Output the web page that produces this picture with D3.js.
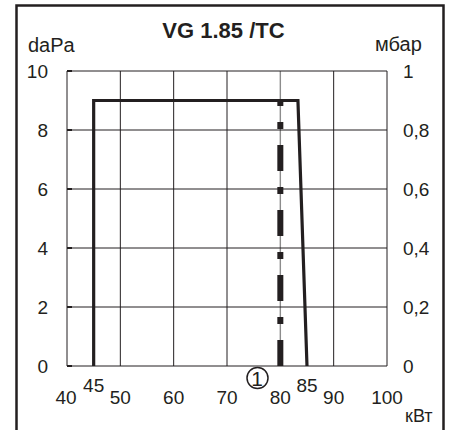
<!DOCTYPE html>
<html>
<head>
<meta charset="utf-8">
<script src="https://cdn.jsdelivr.net/npm/d3@7"></script>
<style>
  html, body { margin: 0; padding: 0; background: #fff; }
  svg { display: block; font-family: "Liberation Sans", Arial, sans-serif; }
</style>
</head>
<body>
<div id="chart"></div>
<script>
/*-------------------------------data-------------------------------*/

const title = "VG 1.85 /TC";
const xTicks = [40, 50, 60, 70, 80, 90, 100];
const xRaisedTicks = [45, 85];
const yTicks = [0, 2, 4, 6, 8, 10];
const yRightLabels = ["0", "0,2", "0,4", "0,6", "0,8", "1"];

// working field outline (kW, daPa)
const fieldKw = [45, 45, 83.3, 85];
const fieldDaPa = [0, 9, 9, 0];

// marker line 1
const markerKw = 80;
const markerTop = 9;

/*-------------------------------init-------------------------------*/

const size = { width: 452, height: 430 };
const plot = { left: 67, right: 387, top: 71, bottom: 366 };

const svg = d3.select("#chart").append("svg")
    .attr("width", size.width)
    .attr("height", size.height);

const x = d3.scaleLinear().domain([40, 100]).range([plot.left, plot.right]);
const y = d3.scaleLinear().domain([0, 10]).range([plot.bottom, plot.top]);

// outer frame (open at the bottom)
svg.append("path")
    .attr("d", `M16.5,432 V5.5 H443.5 V432`)
    .attr("fill", "none")
    .attr("stroke", "#231f20")
    .attr("stroke-width", 2.5);

/*-------------------------------grid-------------------------------*/

const grid = svg.append("g");

grid.selectAll(".vline")
    .data(xTicks)
    .enter()
    .append("line")
    .attr("x1", d => x(d))
    .attr("x2", d => x(d))
    .attr("y1", y(10))
    .attr("y2", y(0))
    .attr("stroke", d => d === markerKw ? "#8c8c8c" : "#231f20")
    .attr("stroke-width", d => d === markerKw ? 1.4 : 1);

grid.selectAll(".hline")
    .data(yTicks)
    .enter()
    .append("line")
    .attr("x1", x(40))
    .attr("x2", x(100))
    .attr("y1", d => y(d))
    .attr("y2", d => y(d))
    .attr("stroke", "#231f20")
    .attr("stroke-width", 1);

// small ticks on the left axis
grid.selectAll(".tick")
    .data(yTicks)
    .enter()
    .append("line")
    .attr("x1", x(40))
    .attr("x2", x(40) + 5)
    .attr("y1", d => y(d))
    .attr("y2", d => y(d))
    .attr("stroke", "#231f20")
    .attr("stroke-width", 2);

/*-------------------------------curve-------------------------------*/

// marker line, dash pattern counted from the bottom
svg.append("line")
    .attr("x1", x(markerKw))
    .attr("x2", x(markerKw))
    .attr("y1", y(0))
    .attr("y2", y(markerTop))
    .attr("stroke", "#231f20")
    .attr("stroke-width", 6)
    .attr("stroke-dasharray", "26,16,7,16");

const line = d3.line()
    .x(d => x(d[0]))
    .y(d => y(d[1]));

svg.append("path")
    .datum(fieldKw.map((k, i) => [k, fieldDaPa[i]]))
    .attr("d", line)
    .attr("fill", "none")
    .attr("stroke", "#231f20")
    .attr("stroke-width", 3.2)
    .attr("stroke-linejoin", "miter");

// circled 1
svg.append("circle")
    .attr("cx", 257.5)
    .attr("cy", 378)
    .attr("r", 10.5)
    .attr("fill", "#fff")
    .attr("stroke", "#231f20")
    .attr("stroke-width", 1.5);

/*-------------------------------labels-------------------------------*/

const txt = svg.append("g").attr("fill", "#231f20");

txt.append("text")
    .attr("x", 223.5)
    .attr("y", 38)
    .attr("text-anchor", "middle")
    .style("font-size", "22px")
    .style("font-weight", "bold")
    .text(title);

txt.append("text")
    .attr("x", 28)
    .attr("y", 52)
    .style("font-size", "20px")
    .text("daPa");

txt.append("text")
    .attr("x", 375)
    .attr("y", 51)
    .style("font-size", "20px")
    .text("мбар");

txt.selectAll(".yl")
    .data(yTicks)
    .enter()
    .append("text")
    .attr("x", 48)
    .attr("y", d => y(d) + 7)
    .attr("text-anchor", "end")
    .style("font-size", "19px")
    .text(d => d);

txt.selectAll(".yr")
    .data(yTicks)
    .enter()
    .append("text")
    .attr("x", 403)
    .attr("y", d => y(d) + 7)
    .style("font-size", "19px")
    .text((d, i) => yRightLabels[i]);

txt.selectAll(".xl")
    .data(xTicks)
    .enter()
    .append("text")
    .attr("x", d => x(d) + (d === 40 ? -1 : 0))
    .attr("y", 404)
    .attr("text-anchor", "middle")
    .style("font-size", "19px")
    .text(d => d);

txt.selectAll(".xr")
    .data(xRaisedTicks)
    .enter()
    .append("text")
    .attr("x", d => x(d))
    .attr("y", 392)
    .attr("text-anchor", "middle")
    .style("font-size", "19px")
    .text(d => d);

txt.append("text")
    .attr("x", 405)
    .attr("y", 422)
    .style("font-size", "18px")
    .text("кВт");

txt.append("text")
    .attr("x", 257)
    .attr("y", 385.5)
    .attr("text-anchor", "middle")
    .style("font-size", "21px")
    .text("1");
</script>
</body>
</html>
